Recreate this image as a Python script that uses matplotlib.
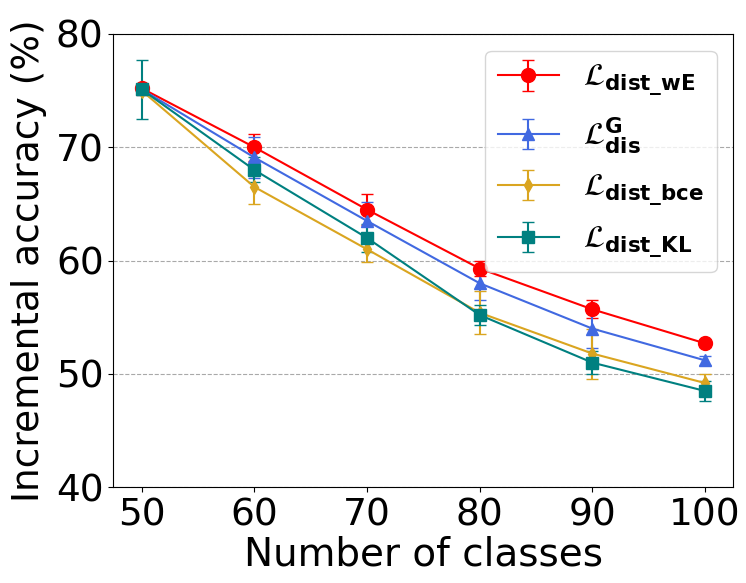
import matplotlib
matplotlib.use("Agg")
import matplotlib.pyplot as plt

# classes seen so far
classes = [50, 60, 70, 80, 90, 100]

# accuracy (%) and std for each distillation loss
acc_wE = [75.2, 70.0, 64.5, 59.3, 55.7, 52.7]
std_wE = [0.4, 1.2, 1.4, 0.7, 0.8, 0.3]
acc_G = [75.1, 69.1, 63.5, 58.0, 54.0, 51.2]
std_G = [0.4, 1.8, 1.7, 1.5, 1.7, 0.4]
acc_bce = [75.0, 66.5, 61.0, 55.4, 51.8, 49.2]
std_bce = [0.4, 1.5, 1.1, 1.9, 2.2, 0.8]
acc_KL = [75.1, 68.0, 62.0, 55.2, 51.0, 48.5]
std_KL = [2.6, 1.1, 1.2, 0.9, 1.0, 0.9]

fig = plt.figure(figsize=(7.46, 5.83), dpi=100)
ax = fig.add_axes([0.152, 0.164, 0.831, 0.778])

ax.errorbar(classes, acc_wE, yerr=std_wE, color='red', marker='o', markersize=10,
            capsize=4, lw=1.5, label=r'$\mathcal{L}_{\mathbf{dist\_wE}}$')
ax.errorbar(classes, acc_G, yerr=std_G, color='royalblue', marker='^', markersize=9,
            capsize=4, lw=1.5, label=r'$\mathcal{L}^{\mathbf{G}}_{\mathbf{dis}}$')
ax.errorbar(classes, acc_bce, yerr=std_bce, color='goldenrod', marker='d', markersize=7,
            capsize=4, lw=1.5, label=r'$\mathcal{L}_{\mathbf{dist\_bce}}$')
ax.errorbar(classes, acc_KL, yerr=std_KL, color='teal', marker='s', markersize=8,
            capsize=4, lw=1.5, label=r'$\mathcal{L}_{\mathbf{dist\_KL}}$')

ax.set_ylim(40, 80)
ax.set_xticks(classes)
ax.set_yticks([40, 50, 60, 70, 80])
ax.tick_params(labelsize=27)
ax.yaxis.grid(True, linestyle='--', color='darkgray', lw=0.8)
ax.set_xlabel('Number of classes', fontsize=28, labelpad=2)
ax.set_ylabel('Incremental accuracy (%)', fontsize=27, labelpad=6)
ax.legend(loc='upper right', fontsize=22, borderpad=0.4, labelspacing=0.55,
          handlelength=2.0, handletextpad=0.8, borderaxespad=0.55)

fig.savefig('out.png', dpi=100)
